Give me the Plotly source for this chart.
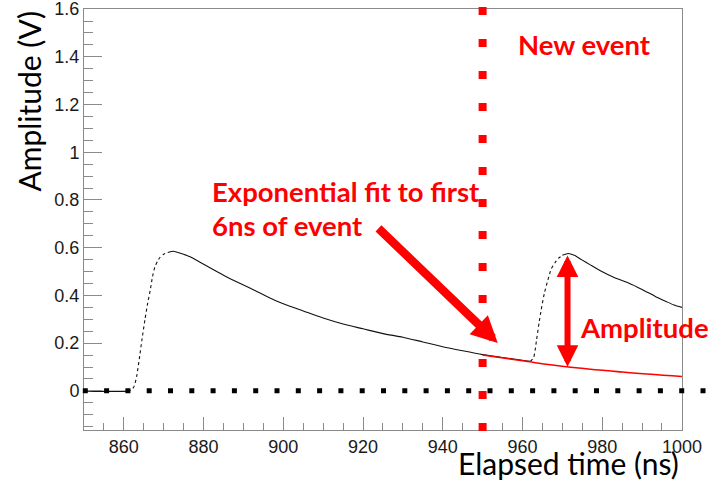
import plotly.graph_objects as go

# Digitised waveform: elapsed time (ns) and amplitude (V)
time_ns = [850, 853, 856, 859, 861, 862.0, 862.6, 863.2, 864.0, 864.5, 865.3, 866.0,
           866.6, 867.2, 867.8, 868.5, 869.1, 870.0, 871.0, 872.4, 874.0, 876.6,
           879.0, 881.7, 885.0, 889.2, 893.0, 896.0, 900.0, 905.0, 910.0, 915.0,
           920.0, 925.0, 930.0, 935.0, 940.0, 945.0, 950.0, 955.0, 960.0, 962.0,
           962.8, 963.5, 964.2, 964.7, 965.5, 966.4, 967.2, 968.1, 969.0, 970.0,
           971.5, 973.0, 974.8, 977.0, 979.9, 983.0, 986.6, 990.0, 993.3, 996.0,
           998.0, 1000.0]
amplitude_v = [0.000, -0.002, -0.002, -0.002, -0.001, 0.005, 0.02, 0.06, 0.15, 0.21,
               0.30, 0.37, 0.42, 0.48, 0.52, 0.545, 0.56, 0.573, 0.580, 0.585, 0.578,
               0.562, 0.540, 0.515, 0.485, 0.450, 0.420, 0.395, 0.365, 0.335, 0.305,
               0.280, 0.260, 0.240, 0.225, 0.205, 0.185, 0.168, 0.152, 0.140, 0.128,
               0.124, 0.140, 0.21, 0.29, 0.34, 0.41, 0.466, 0.51, 0.536, 0.555, 0.568,
               0.576, 0.568, 0.550, 0.528, 0.500, 0.475, 0.452, 0.425, 0.396, 0.375,
               0.360, 0.350]

# Rising edges are sparsely sampled and drawn dotted
rise_windows = [(861.5, 871.0), (962.0, 970.0)]

# Exponential fit to the start of the new event
fit_time = [950, 960, 971, 985, 1000]
fit_amp = [0.150, 0.126, 0.101, 0.079, 0.060]

new_event_time = 950
amp_marker_time = 971.3
amp_marker_low = 0.101
amp_marker_high = 0.574

x_ticks = [860, 880, 900, 920, 940, 960, 980, 1000]
y_ticks = [0, 0.2, 0.4, 0.6, 0.8, 1.0, 1.2, 1.4, 1.6]
y_tick_text = ["0", "0.2", "0.4", "0.6", "0.8", "1", "1.2", "1.4", "1.6"]

RED = "#ff0000"
TEXT_FONT = "Lato"
TICK_FONT = "Liberation Sans, Arial, sans-serif"

fig = go.Figure()


def in_rise(t):
    return any(a <= t <= b for a, b in rise_windows)


# Build solid/dotted segments of the waveform
segments = []
cur = [[time_ns[0]], [amplitude_v[0]], in_rise(time_ns[0])]
for i in range(1, len(time_ns)):
    t, v = time_ns[i], amplitude_v[i]
    mid_rise = in_rise(0.5 * (t + time_ns[i - 1]))
    if mid_rise != cur[2]:
        segments.append(cur)
        cur = [[time_ns[i - 1]], [amplitude_v[i - 1]], mid_rise]
    cur[0].append(t)
    cur[1].append(v)
segments.append(cur)

for xs, ys, dotted in segments:
    fig.add_trace(go.Scatter(
        x=xs, y=ys, mode="lines",
        line=dict(color="#111111", width=1.1, dash="dot" if dotted else "solid",
                  shape="spline", smoothing=0.6),
        showlegend=False, hoverinfo="skip"))

fig.add_trace(go.Scatter(
    x=fit_time, y=fit_amp, mode="lines",
    line=dict(color=RED, width=1.6, shape="spline"),
    showlegend=False, hoverinfo="skip"))

# Baseline marker (black) and new-event marker (red)
fig.add_shape(type="line", xref="paper", yref="y", x0=-0.002, x1=1.04, y0=0, y1=0,
              line=dict(color="black", width=5, dash="5px,16.3px"), layer="above")
fig.add_shape(type="line", xref="x", yref="paper", x0=new_event_time, x1=new_event_time,
              y0=1.005, y1=-0.003,
              line=dict(color=RED, width=8, dash="8px,24px"), layer="above")

W, H = 715, 480
ML, MR, MT, MB = 84, 33, 9, 50
PW, PH = W - ML - MR, H - MT - MB


def px(xp):
    return (xp - ML) / PW


def py(yp):
    return (H - MB - yp) / PH


def label(text, xp, yp, size=27.5, bold=True, color=RED, xanchor="left", angle=0):
    fig.add_annotation(
        text=f"<b>{text}</b>" if bold else text,
        xref="paper", yref="paper", x=px(xp), y=py(yp),
        xanchor=xanchor, yanchor="middle", showarrow=False, textangle=angle,
        font=dict(family=TEXT_FONT, size=size, color=color))


label("New event", 516, 44)
label("Exponential fit to first", 210, 191)
label("6ns of event", 210, 226)
label("Amplitude", 578, 327)

# Pointer from the fit label to the fit start
fig.add_annotation(
    x=953.8, y=0.201, ax=923.5, ay=0.687, xref="x", yref="y", axref="x", ayref="y",
    text="", showarrow=True, arrowhead=2, arrowsize=0.62, arrowwidth=8.5, arrowcolor=RED)

# Double-headed amplitude marker
fig.add_annotation(
    x=amp_marker_time, y=amp_marker_low, ax=amp_marker_time, ay=amp_marker_high,
    xref="x", yref="y", axref="x", ayref="y", text="", showarrow=True,
    arrowside="end+start", arrowhead=2, startarrowhead=2,
    arrowsize=0.72, startarrowsize=0.72, arrowwidth=6, arrowcolor=RED)

# Axis titles
fig.add_annotation(text="Amplitude (V)", xref="paper", yref="paper",
                   x=px(28), y=py(9), xanchor="center", yanchor="top",
                   textangle=-90, showarrow=False,
                   font=dict(family=TEXT_FONT, size=30, color="black"))
fig.add_annotation(text="Elapsed time (ns)", xref="paper", yref="paper",
                   x=px(681), y=py(463), xanchor="right", yanchor="middle",
                   showarrow=False, font=dict(family=TEXT_FONT, size=30, color="black"))

axis_common = dict(
    showline=True, linecolor="#8a8a8a", linewidth=1, mirror=True,
    showgrid=False, zeroline=False, ticks="inside", tickcolor="#8a8a8a",
    tickwidth=1, ticklabeloverflow="allow", automargin=False,
    tickfont=dict(family=TICK_FONT, size=18, color="#1a1a1a"),
)

fig.update_xaxes(range=[850, 1000.02], tickvals=x_ticks, ticklen=13,
                 minor=dict(dtick=5, tick0=850, ticks="inside", ticklen=7,
                            tickcolor="#8a8a8a"),
                 **axis_common)
fig.update_yaxes(range=[-0.164, 1.6005], tickvals=y_ticks, ticktext=y_tick_text,
                 ticklen=18,
                 minor=dict(dtick=0.05, tick0=0, ticks="inside", ticklen=9,
                            tickcolor="#8a8a8a"),
                 **axis_common)

fig.update_layout(
    width=W, height=H,
    margin=dict(l=ML, r=MR, t=MT, b=MB, pad=0, autoexpand=False),
    paper_bgcolor="white", plot_bgcolor="white",
    showlegend=False,
)

fig.write_html("out.html")
